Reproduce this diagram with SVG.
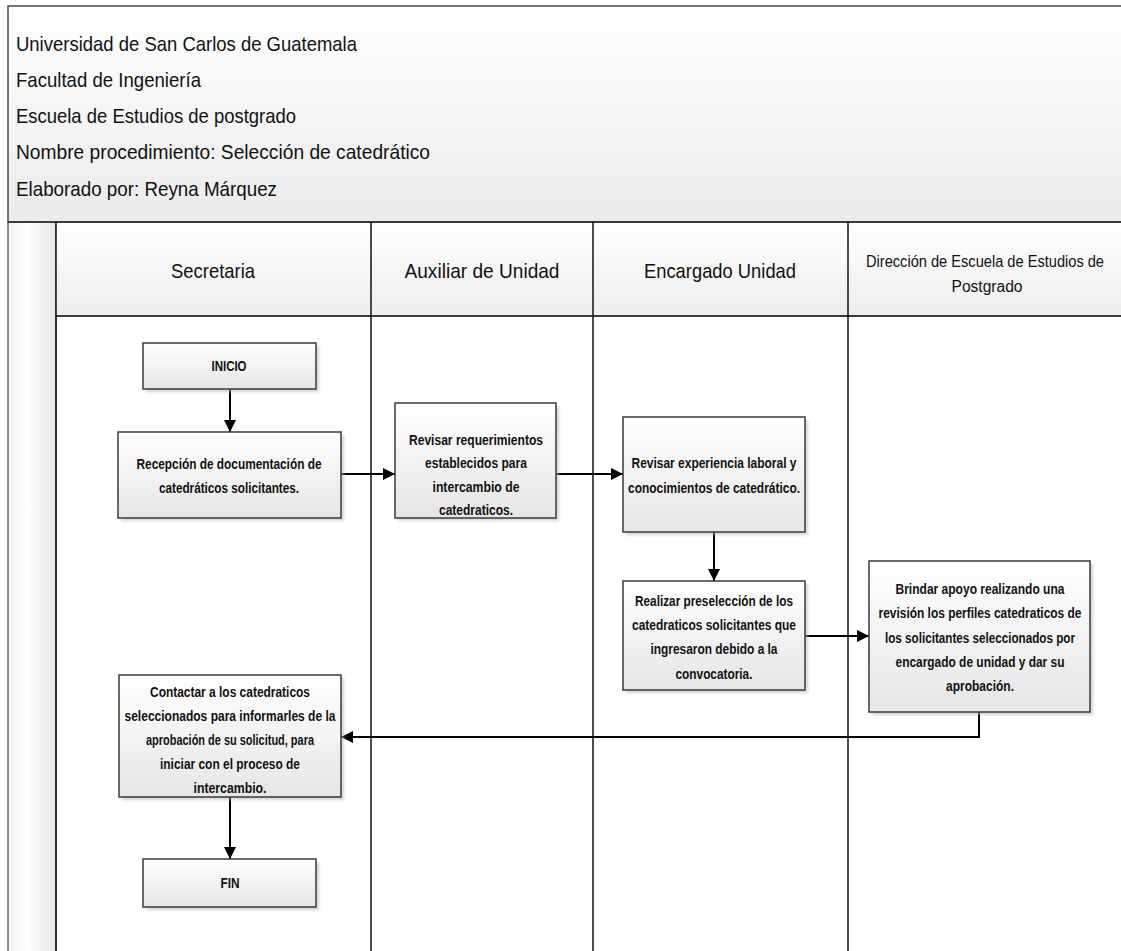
<svg xmlns="http://www.w3.org/2000/svg" width="1121" height="951" viewBox="0 0 1121 951">
<style>
.t{font-family:"Liberation Sans",Arial,sans-serif;fill:#111}
.title{font-size:21px}
.hdr{font-size:21px;text-anchor:middle}
.hdr2{font-size:16px;text-anchor:middle}
.bx{font-size:15px;font-weight:bold;text-anchor:middle}
.bxs{font-size:14px;font-weight:bold;text-anchor:middle}
.box{fill:url(#gBox);stroke:#3a3a3a;stroke-width:1.5}
.shadow{fill:#b0b0b0;opacity:0.55;filter:url(#blur)}
.lane{stroke:#111;stroke-width:1.5;fill:none}
.hline{stroke:#3c3c3c;stroke-width:2;fill:none}
.con{stroke:#000;stroke-width:2;fill:none;marker-end:url(#arr)}
</style>
<defs>
<linearGradient id="gTitle" x1="0" y1="0" x2="0" y2="1"><stop offset="0" stop-color="#ffffff"/><stop offset="1" stop-color="#ebebeb"/></linearGradient>
<linearGradient id="gHdr" x1="0" y1="0" x2="0" y2="1"><stop offset="0" stop-color="#ffffff"/><stop offset="1" stop-color="#ededed"/></linearGradient>
<linearGradient id="gStrip" x1="0" y1="0" x2="1" y2="0"><stop offset="0" stop-color="#f2f2f2"/><stop offset="0.4" stop-color="#ffffff"/><stop offset="1" stop-color="#e6e6e6"/></linearGradient>
<linearGradient id="gBox" x1="0" y1="0" x2="0" y2="1"><stop offset="0" stop-color="#ffffff"/><stop offset="1" stop-color="#e6e6e6"/></linearGradient>
<filter id="blur" x="-10%" y="-10%" width="120%" height="120%"><feGaussianBlur stdDeviation="1.5"/></filter>
<marker id="arr" viewBox="0 0 12 12" refX="12" refY="6" markerWidth="12" markerHeight="12" markerUnits="userSpaceOnUse" orient="auto"><path d="M0,0 L12,6 L0,12 z" fill="#000"/></marker>
</defs>

<g id="frame">
<rect x="0" y="0" width="1121" height="951" fill="#ffffff"/>
<rect x="8" y="6" width="1125" height="216" fill="url(#gTitle)" stroke="#4a4a4a" stroke-width="1.5"/>
<rect x="8" y="222" width="48" height="740" fill="url(#gStrip)" stroke="#4a4a4a" stroke-width="1.2"/>
</g>

<g id="title">
<text class="t title" x="16" y="51" textLength="341" lengthAdjust="spacingAndGlyphs">Universidad de San Carlos de Guatemala</text>
<text class="t title" x="16" y="87" textLength="185" lengthAdjust="spacingAndGlyphs">Facultad de Ingeniería</text>
<text class="t title" x="16" y="123" textLength="280" lengthAdjust="spacingAndGlyphs">Escuela de Estudios de postgrado</text>
<text class="t title" x="16" y="159" textLength="414" lengthAdjust="spacingAndGlyphs">Nombre procedimiento: Selección de catedrático</text>
<text class="t title" x="16" y="196" textLength="261" lengthAdjust="spacingAndGlyphs">Elaborado por: Reyna Márquez</text>
</g>

<g id="lanes">
<rect x="56" y="222" width="315" height="94" fill="url(#gHdr)"/>
<rect x="371" y="222" width="222" height="94" fill="url(#gHdr)"/>
<rect x="593" y="222" width="255" height="94" fill="url(#gHdr)"/>
<rect x="848" y="222" width="273" height="94" fill="url(#gHdr)"/>
<line class="hline" x1="8" y1="222" x2="1121" y2="222"/>
<line class="hline" x1="56" y1="316" x2="1121" y2="316"/>
<line class="lane" x1="56" y1="222" x2="56" y2="951"/>
<line class="lane" x1="371" y1="222" x2="371" y2="951"/>
<line class="lane" x1="593" y1="222" x2="593" y2="951"/>
<line class="lane" x1="848" y1="222" x2="848" y2="951"/>
<text class="t hdr" x="213" y="278" textLength="84" lengthAdjust="spacingAndGlyphs">Secretaria</text>
<text class="t hdr" x="482" y="278" textLength="155" lengthAdjust="spacingAndGlyphs">Auxiliar de Unidad</text>
<text class="t hdr" x="720" y="278" textLength="152" lengthAdjust="spacingAndGlyphs">Encargado Unidad</text>
<text class="t hdr2" x="985" y="267" textLength="238" lengthAdjust="spacingAndGlyphs">Dirección de Escuela de Estudios de</text>
<text class="t hdr2" x="987" y="292" textLength="71" lengthAdjust="spacingAndGlyphs">Postgrado</text>
</g>

<g id="connectors">
<line class="con" x1="230" y1="389" x2="230" y2="432"/>
<line class="con" x1="341" y1="474" x2="395" y2="474"/>
<line class="con" x1="556" y1="474" x2="623" y2="474"/>
<line class="con" x1="714" y1="532" x2="714" y2="581"/>
<line class="con" x1="805" y1="636" x2="869" y2="636"/>
<polyline class="con" points="979,712 979,737 341,737"/>
<line class="con" x1="230" y1="797" x2="230" y2="859"/>
</g>

<g id="inicio">
<rect class="shadow" x="146" y="346" width="173" height="46"/>
<rect class="box" x="143" y="343" width="173" height="46"/>
<text class="t bx" x="229" y="371" textLength="35" lengthAdjust="spacingAndGlyphs">INICIO</text>
</g>

<g id="recepcion">
<rect class="shadow" x="121" y="435" width="223" height="86"/>
<rect class="box" x="118" y="432" width="223" height="86"/>
<text class="t bx" x="229" y="469" textLength="185" lengthAdjust="spacingAndGlyphs">Recepción de documentación de</text>
<text class="t bx" x="229" y="493" textLength="140" lengthAdjust="spacingAndGlyphs">catedráticos solicitantes.</text>
</g>

<g id="revisar-req">
<rect class="shadow" x="398" y="406" width="161" height="115"/>
<rect class="box" x="395" y="403" width="161" height="115"/>
<text class="t bx" x="476" y="445" textLength="134" lengthAdjust="spacingAndGlyphs">Revisar requerimientos</text>
<text class="t bx" x="476" y="468" textLength="102" lengthAdjust="spacingAndGlyphs">establecidos para</text>
<text class="t bx" x="476" y="492" textLength="87" lengthAdjust="spacingAndGlyphs">intercambio de</text>
<text class="t bx" x="476" y="515" textLength="74" lengthAdjust="spacingAndGlyphs">catedraticos.</text>
</g>

<g id="revisar-exp">
<rect class="shadow" x="626" y="420" width="182" height="115"/>
<rect class="box" x="623" y="417" width="182" height="115"/>
<text class="t bx" x="714" y="468" textLength="165" lengthAdjust="spacingAndGlyphs">Revisar experiencia laboral y</text>
<text class="t bx" x="714" y="493" textLength="172" lengthAdjust="spacingAndGlyphs">conocimientos de catedrático.</text>
</g>

<g id="preseleccion">
<rect class="shadow" x="626" y="584" width="182" height="109"/>
<rect class="box" x="623" y="581" width="182" height="109"/>
<text class="t bx" x="714" y="606" textLength="158" lengthAdjust="spacingAndGlyphs">Realizar preselección de los</text>
<text class="t bx" x="714" y="630" textLength="164" lengthAdjust="spacingAndGlyphs">catedraticos solicitantes que</text>
<text class="t bx" x="714" y="654" textLength="127" lengthAdjust="spacingAndGlyphs">ingresaron debido a la</text>
<text class="t bx" x="714" y="679" textLength="77" lengthAdjust="spacingAndGlyphs">convocatoria.</text>
</g>

<g id="brindar">
<rect class="shadow" x="872" y="564" width="221" height="151"/>
<rect class="box" x="869" y="561" width="221" height="151"/>
<text class="t bxs" x="980" y="594" textLength="169" lengthAdjust="spacingAndGlyphs">Brindar apoyo realizando una</text>
<text class="t bxs" x="980" y="618" textLength="203" lengthAdjust="spacingAndGlyphs">revisión los perfiles catedraticos de</text>
<text class="t bxs" x="980" y="643" textLength="190" lengthAdjust="spacingAndGlyphs">los solicitantes seleccionados por</text>
<text class="t bxs" x="980" y="667" textLength="169" lengthAdjust="spacingAndGlyphs">encargado de unidad y dar su</text>
<text class="t bxs" x="980" y="691" textLength="68" lengthAdjust="spacingAndGlyphs">aprobación.</text>
</g>

<g id="contactar">
<rect class="shadow" x="122" y="678" width="222" height="122"/>
<rect class="box" x="119" y="675" width="222" height="122"/>
<text class="t bx" x="230" y="697" textLength="160" lengthAdjust="spacingAndGlyphs">Contactar a los catedraticos</text>
<text class="t bx" x="230" y="721" textLength="211" lengthAdjust="spacingAndGlyphs">seleccionados para informarles de la</text>
<text class="t bx" x="230" y="745" textLength="168" lengthAdjust="spacingAndGlyphs">aprobación de su solicitud, para</text>
<text class="t bx" x="230" y="769" textLength="140" lengthAdjust="spacingAndGlyphs">iniciar con el proceso de</text>
<text class="t bx" x="230" y="793" textLength="73" lengthAdjust="spacingAndGlyphs">intercambio.</text>
</g>

<g id="fin">
<rect class="shadow" x="146" y="862" width="173" height="48"/>
<rect class="box" x="143" y="859" width="173" height="48"/>
<text class="t bx" x="230" y="888" textLength="19" lengthAdjust="spacingAndGlyphs">FIN</text>
</g>
</svg>
